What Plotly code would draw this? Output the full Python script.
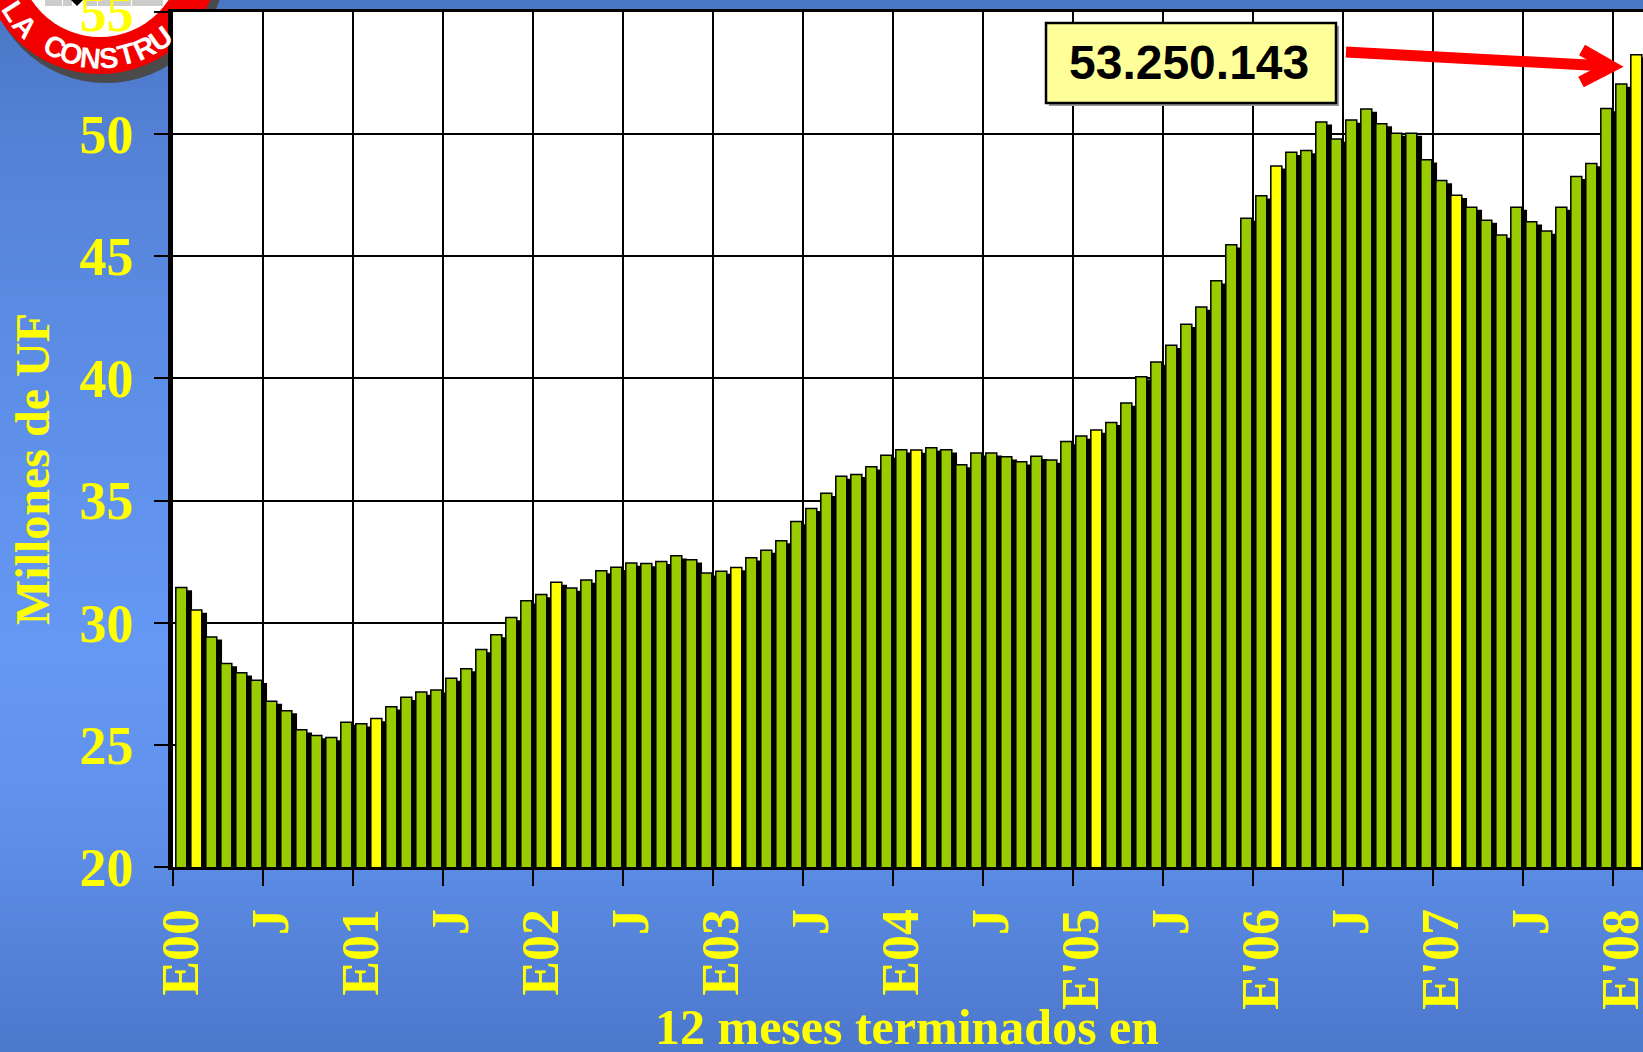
import math
import plotly.graph_objects as go

# ---------------- data ----------------
years = [2000, 2001, 2002, 2003, 2004, 2005, 2006, 2007, 2008]
month_numbers = list(range(1, 13))

values = [
    31.44, 30.52, 29.42, 28.33, 27.95, 27.64, 26.79, 26.40, 25.62, 25.38, 25.30, 25.93,  # 2000
    25.86, 26.08, 26.56, 26.95, 27.16, 27.25, 27.73, 28.12, 28.90, 29.51, 30.21, 30.90,  # 2001
    31.15, 31.66, 31.42, 31.75, 32.13, 32.27, 32.44, 32.42, 32.51, 32.74, 32.58, 32.04,  # 2002
    32.11, 32.26, 32.66, 32.97, 33.36, 34.14, 34.68, 35.30, 36.00, 36.07, 36.38, 36.86,  # 2003
    37.08, 37.07, 37.16, 37.08, 36.47, 36.95, 36.95, 36.79, 36.59, 36.81, 36.66, 37.42,  # 2004
    37.64, 37.89, 38.20, 38.99, 40.07, 40.67, 41.36, 42.22, 42.92, 44.00, 45.47, 46.56,  # 2005
    47.48, 48.70, 49.26, 49.33, 50.50, 49.80, 50.58, 51.03, 50.43, 50.04, 50.04, 48.95,  # 2006
    48.10, 47.50, 47.01, 46.48, 45.87, 47.01, 46.41, 46.03, 47.01, 48.27, 48.80, 51.05,  # 2007
    52.05, 53.25,                                                                        # 2008
]

months = [(y, m) for y in years for m in month_numbers][: len(values)]
highlight_month = 2  # February bars drawn in yellow

tick_labels = ["E00", "J", "E01", "J", "E02", "J", "E03", "J", "E04", "J",
               "E'05", "J", "E'06", "J", "E'07", "J", "E'08"]
y_ticks = [20, 25, 30, 35, 40, 45, 50, 55]
last_value_text = "53.250.143"

# ---------------- layout geometry ----------------
W_FIG, H_FIG = 1643, 1052
L, T = 173, 12
PW = 1470
PH = 855
B = H_FIG - T - PH


def X(p):
    return (p - L) / PW


def Y(p):
    return 1 - (p - T) / PH


x_idx = list(range(len(values)))
bar_colors = ["#ffff00" if m == highlight_month else "#99cc00" for (_, m) in months]
shadow_vals = [v - 0.11 for v in values]

SERIF = "Liberation Serif"
SANS = "Liberation Sans"
YELLOW = "#ffff00"

fig = go.Figure()
fig.add_trace(go.Bar(x=x_idx, y=shadow_vals, width=0.75, offset=0.02,
                     marker=dict(color="black", line=dict(width=0)),
                     hoverinfo="skip", showlegend=False))
fig.add_trace(go.Bar(x=x_idx, y=values, width=0.733, offset=-0.313,
                     marker=dict(color=bar_colors, line=dict(color="black", width=1.5)),
                     showlegend=False))

shapes = []
# background gradient strips
stops = [(0, (74, 118, 198)), (150, (84, 130, 214)), (400, (94, 143, 232)),
         (650, (101, 152, 245)), (820, (96, 144, 234)), (1052, (76, 120, 204))]


def grad(yp):
    for (a, ca), (b, cb) in zip(stops[:-1], stops[1:]):
        if a <= yp <= b:
            t = (yp - a) / (b - a)
            return tuple(round(ca[i] + (cb[i] - ca[i]) * t) for i in range(3))
    return stops[-1][1]


step = 6
for y0 in range(0, H_FIG, step):
    c = grad(y0 + step / 2)
    shapes.append(dict(type="rect", xref="paper", yref="paper", layer="below",
                       x0=X(-2), x1=X(W_FIG + 2), y0=Y(y0 - 0.5), y1=Y(y0 + step + 0.5),
                       fillcolor="rgb(%d,%d,%d)" % c, line=dict(width=0)))

# logo (circle seal, partially visible)
def circ(cx, cy, r, color):
    return dict(type="circle", xref="paper", yref="paper", layer="below",
                x0=X(cx - r), x1=X(cx + r), y0=Y(cy + r), y1=Y(cy - r),
                fillcolor=color, line=dict(width=0))


shapes.append(circ(106, -36, 119, "#4a4a4a"))
shapes.append(circ(100, -45, 119, "#f20000"))
shapes.append(circ(100, -45, 82, "#ffffff"))
for (a, b) in [(45, 62), (63, 72), (84, 97), (98, 131), (132, 163)]:
    shapes.append(dict(type="rect", xref="paper", yref="paper", layer="below",
                       x0=X(a), x1=X(b), y0=Y(6), y1=Y(-2),
                       fillcolor="#cccccc", line=dict(width=0)))
shapes.append(dict(type="path", xref="paper", yref="paper", layer="below",
                   path="M %f,%f L %f,%f L %f,%f Z" % (X(70), Y(-1), X(84), Y(-1), X(77), Y(6)),
                   fillcolor="black", line=dict(width=0)))

# white plot area over background
shapes.append(dict(type="rect", xref="paper", yref="paper", layer="below",
                   x0=0, x1=1, y0=0, y1=1, fillcolor="white", line=dict(width=0)))

# value box
shapes.append(dict(type="rect", xref="paper", yref="paper", layer="above",
                   x0=X(1049), x1=X(1339), y0=Y(106), y1=Y(26),
                   fillcolor="#999999", line=dict(width=0)))
shapes.append(dict(type="rect", xref="paper", yref="paper", layer="above",
                   x0=X(1046), x1=X(1336), y0=Y(103), y1=Y(23),
                   fillcolor="#ffff99", line=dict(color="black", width=2.5)))
# red arrow
shapes.append(dict(type="line", xref="paper", yref="paper", layer="above",
                   x0=X(1346), y0=Y(52), x1=X(1606), y1=Y(66),
                   line=dict(color="#ff0000", width=11)))
shapes.append(dict(type="path", xref="paper", yref="paper", layer="above",
                   path="M %f,%f L %f,%f L %f,%f" % (X(1582), Y(50), X(1611), Y(66.5), X(1581), Y(82)),
                   fillcolor="rgba(0,0,0,0)", line=dict(color="#ff0000", width=12)))

annotations = []
# logo letters
letters = "LA CONSTRUC"
ang = 147.0
for ch in letters:
    if ch != " ":
        rad = math.radians(ang)
        lx = 100 + 103 * math.cos(rad)
        ly = -45 + 103 * math.sin(rad)
        if lx < 168 or ly < 15:
            annotations.append(dict(xref="paper", yref="paper", x=X(lx), y=Y(ly),
                                    text=ch, showarrow=False, textangle=ang - 90,
                                    xanchor="center", yanchor="middle",
                                    font=dict(family=SANS, size=29, color="white", weight="bold")))
    ang -= 10.3

annotations.append(dict(xref="paper", yref="paper", x=X(1189), y=Y(62), text=last_value_text,
                        showarrow=False, xanchor="center", yanchor="middle",
                        font=dict(family=SANS, size=48, color="black", weight="bold")))
annotations.append(dict(xref="paper", yref="paper", x=X(33), y=Y(469), text="Millones de UF",
                        showarrow=False, textangle=-90, xanchor="center", yanchor="middle",
                        font=dict(family=SERIF, size=48, color=YELLOW, weight="bold")))
annotations.append(dict(xref="paper", yref="paper", x=X(907), y=Y(1027), text="12 meses terminados en",
                        showarrow=False, xanchor="center", yanchor="middle",
                        font=dict(family=SERIF, size=50, color=YELLOW, weight="bold")))

fig.update_layout(
    width=W_FIG, height=H_FIG,
    margin=dict(l=L, r=0, t=T, b=B, pad=0, autoexpand=False),
    paper_bgcolor="rgb(90,138,225)", plot_bgcolor="white",
    barmode="overlay", showlegend=False,
    shapes=shapes, annotations=annotations,
    xaxis=dict(range=[-0.5, len(values) - 0.5],
               tickvals=[-0.5 + 6 * k for k in range(len(tick_labels))], ticktext=tick_labels,
               tickangle=-90, ticks="outside", ticklen=16, tickwidth=2, tickcolor="black",
               showgrid=True, gridcolor="black", gridwidth=1.5, zeroline=False,
               showline=True, linecolor="black", linewidth=3.3, mirror=True,
               ticklabelstandoff=2, ticklabelshift=8, ticklabeloverflow="allow",
               automargin=False,
               tickfont=dict(family=SERIF, size=52, color=YELLOW, weight="bold")),
    yaxis=dict(range=[20, 55], tickvals=y_ticks, ticks="outside", ticklen=14, tickwidth=1.5,
               tickcolor="black", showgrid=True, gridcolor="black", gridwidth=1.5,
               zeroline=False, showline=True, linecolor="black", linewidth=4.5,
               ticklabelstandoff=10, ticklabeloverflow="allow", automargin=False,
               tickfont=dict(family=SERIF, size=54, color=YELLOW, weight="bold")),
)

fig.write_html("out.html", config={"displayModeBar": False},
               post_script="document.body.style.margin='0';document.body.style.overflow='hidden';")
